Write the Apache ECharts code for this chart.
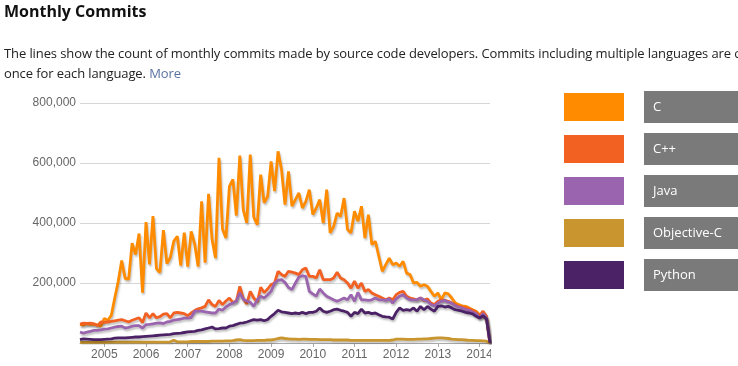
<!DOCTYPE html>
<html>
<head>
<meta charset="utf-8">
<script src="https://cdn.jsdelivr.net/npm/echarts@6/dist/echarts.min.js"></script>
<style>
    html, body {
        margin: 0;
        padding: 0;
        width: 738px;
        height: 366px;
        overflow: hidden;
        background: #fff;
        font-family: "Open Sans", sans-serif;
    }
    #chart {
        position: absolute;
        left: 0;
        top: 0;
        width: 738px;
        height: 366px;
    }
    .title {
        position: absolute;
        left: 4px;
        top: 0px;
        font-size: 16px;
        font-weight: 700;
        color: #111;
        z-index: 2;
    }
    .desc {
        position: absolute;
        left: 4px;
        top: 43px;
        font-size: 13px;
        line-height: 20px;
        letter-spacing: -0.1px;
        color: #222;
        white-space: nowrap;
        z-index: 2;
    }
    .desc a {
        color: #5b72a0;
        text-decoration: none;
    }
</style>
</head>
<body>
<div id="chart"></div>
<div class="title">Monthly Commits</div>
<div class="desc">The lines show the count of monthly commits made by source code developers. Commits including multiple languages are counted<br>once for each language. <a href="#">More</a></div>
<script>
// monthly commits, in thousands, Jun 2004 .. Apr 2014
const startYear = 2004;
const startMonth = 6;
const monthCount = 119;

const languages = ["C", "C++", "Java", "Objective-C", "Python"];
const colors = ["#ff8c00", "#f26022", "#9a65ae", "#c8952e", "#4b2266"];

const cCommits = [
    62, 60, 64, 62, 63, 60, 56,
    82, 76, 92, 150, 205, 275, 215, 213, 333, 295, 365, 168,
    403, 262, 423, 248, 235, 376, 265, 285, 340, 356, 258, 368,
    255, 372, 330, 255, 472, 268, 497, 345, 283, 617, 380, 350,
    522, 545, 425, 625, 444, 400, 628, 420, 394, 561, 467, 489,
    605, 506, 639, 578, 461, 572, 456, 478, 500, 450, 472, 511,
    428, 450, 478, 400, 511, 367, 389, 433, 422, 483, 378, 367,
    439, 406, 456, 350, 428, 328, 339, 289, 239, 261, 283, 261,
    267, 256, 272, 233, 228, 200, 202, 189, 194, 189, 172, 156,
    167, 144, 167, 164, 150, 133, 128, 124, 122, 117, 111, 106,
    94, 89, 80, 0
];
const cppCommits = [
    63, 66, 65, 66, 64, 58, 70,
    69, 70, 72, 74, 76, 78, 74, 70, 76, 80, 84, 68,
    100, 84, 98, 84, 88, 96, 98, 84, 100, 102, 100, 98,
    91, 100, 108, 114, 117, 122, 144, 128, 122, 142, 128, 140,
    150, 135, 140, 189, 148, 130, 172, 150, 136, 186, 168, 180,
    195, 200, 239, 228, 222, 239, 236, 233, 228, 244, 250, 222,
    222, 217, 244, 211, 211, 211, 217, 236, 217, 211, 200, 183,
    206, 183, 200, 172, 178, 167, 161, 156, 150, 144, 150, 144,
    161, 169, 172, 156, 150, 147, 144, 150, 142, 147, 133, 128,
    139, 144, 142, 139, 133, 128, 122, 120, 117, 113, 109, 102,
    91, 106, 89, 0
];
const javaCommits = [
    36, 33, 36, 39, 42, 42, 44,
    46, 47, 50, 53, 55, 56, 50, 52, 56, 58, 58, 50,
    61, 62, 64, 66, 67, 65, 70, 72, 76, 78, 80, 83,
    83, 85, 106, 106, 106, 104, 102, 100, 100, 113, 109, 120,
    128, 133, 140, 167, 146, 140, 136, 122, 144, 156, 150, 160,
    172, 200, 209, 211, 202, 185, 178, 200, 220, 224, 222, 172,
    164, 156, 180, 167, 156, 150, 144, 139, 144, 150, 144, 161,
    139, 169, 144, 144, 142, 144, 150, 144, 144, 142, 147, 133,
    147, 156, 161, 150, 144, 144, 144, 150, 144, 139, 128, 124,
    133, 139, 142, 136, 133, 124, 120, 117, 111, 109, 102, 98,
    83, 98, 83, 0
];
const objcCommits = [
    2, 2, 2, 2, 2, 2, 2,
    2, 2, 3, 3, 3, 3, 3, 3, 3, 3, 3, 3,
    3, 3, 3, 3, 3, 3, 3, 4, 9, 4, 4, 4,
    4, 5, 5, 5, 5, 5, 5, 6, 6, 6, 6, 7,
    7, 8, 10, 11, 9, 8, 8, 8, 9, 9, 9, 10,
    10, 12, 15, 17, 15, 14, 13, 13, 12, 13, 13, 12,
    12, 12, 11, 11, 11, 11, 10, 10, 10, 10, 10, 9,
    9, 9, 9, 9, 9, 9, 9, 9, 9, 9, 9, 10,
    13, 13, 13, 12, 12, 12, 13, 13, 14, 14, 15, 16,
    17, 17, 16, 15, 13, 12, 11, 11, 10, 9, 9, 8,
    8, 7, 6, 0
];
const pythonCommits = [
    11, 14, 13, 12, 11, 11, 11,
    12, 13, 14, 16, 17, 17, 17, 18, 19, 20, 20, 21,
    22, 23, 24, 25, 26, 27, 28, 29, 31, 32, 33, 35,
    37, 38, 39, 42, 44, 47, 50, 53, 47, 48, 50, 50,
    56, 58, 62, 66, 67, 70, 74, 78, 76, 78, 74, 78,
    89, 98, 109, 104, 102, 100, 98, 100, 98, 102, 98, 102,
    102, 106, 117, 106, 102, 106, 111, 113, 109, 106, 102, 89,
    102, 98, 113, 100, 102, 98, 100, 94, 89, 87, 86, 80,
    102, 117, 109, 111, 109, 117, 106, 122, 111, 122, 113, 106,
    122, 124, 120, 122, 117, 111, 109, 106, 102, 100, 97, 89,
    83, 91, 80, 0
];
const seriesValues = [cCommits, cppCommits, javaCommits, objcCommits, pythonCommits];

const yTicks = [0, 200, 400, 600, 800];

// month categories "YYYY-MM"
const months = [];
for (let k = 0; k < monthCount; k++) {
    const m = startMonth - 1 + k;
    const y = startYear + Math.floor(m / 12);
    months.push(y + "-" + String((m % 12) + 1).padStart(2, "0"));
}

const isJanuary = (index, value) => value.endsWith("-01");

const chart = echarts.init(document.getElementById("chart"), null, { renderer: "canvas" });

chart.setOption({
    animation: false,
    color: colors,
    grid: {
        left: 80,
        right: 248,
        top: 103,
        bottom: 23,
    },
    legend: {
        data: languages,
        orient: "vertical",
        left: 559,
        top: 86,
        icon: "rect",
        itemWidth: 60,
        itemHeight: 28,
        itemGap: 10,
        selectedMode: false,
        formatter: (name) => "{g| }{b|" + name + "}",
        textStyle: {
            rich: {
                g: { width: 15 },
                b: {
                    backgroundColor: "#7a7a7a",
                    color: "#fff",
                    fontFamily: "Open Sans",
                    fontSize: 13,
                    width: 120,
                    height: 32,
                    lineHeight: 32,
                    padding: [0, 0, 0, 9],
                },
            },
        },
    },
    xAxis: {
        type: "category",
        data: months,
        boundaryGap: false,
        axisLine: { lineStyle: { color: "#aaa" } },
        axisTick: { interval: isJanuary, length: 4, lineStyle: { color: "#aaa" } },
        axisLabel: {
            interval: isJanuary,
            formatter: (v) => v.slice(0, 4),
            color: "#666",
            fontFamily: "Liberation Sans",
            fontSize: 12,
            margin: 6,
        },
        splitLine: { show: false },
    },
    yAxis: {
        type: "value",
        min: yTicks[0],
        max: yTicks[yTicks.length - 1],
        interval: 200,
        axisLine: { show: false },
        axisTick: { show: false },
        axisLabel: {
            showMinLabel: false,
            formatter: (v) => (v * 1000).toLocaleString("en-US"),
            color: "#666",
            fontFamily: "Liberation Sans",
            fontSize: 12,
            margin: 4,
        },
        splitLine: { lineStyle: { color: "#d6d6d6", width: 1 } },
    },
    graphic: [
        {
            // the original plot image is cut off just after the 2014 label starts
            type: "rect",
            left: 491,
            top: 346,
            shape: { width: 60, height: 18 },
            style: { fill: "#fff" },
            z: 100,
        },
    ],
    series: languages.map((name, i) => ({
        name: name,
        type: "line",
        data: seriesValues[i],
        showSymbol: false,
        lineStyle: {
            width: 2.8,
            color: colors[i],
            shadowColor: "rgba(0, 0, 0, 0.25)",
            shadowBlur: 2,
            shadowOffsetX: 1,
            shadowOffsetY: 2,
        },
        itemStyle: { color: colors[i] },
    })),
});
</script>
</body>
</html>
